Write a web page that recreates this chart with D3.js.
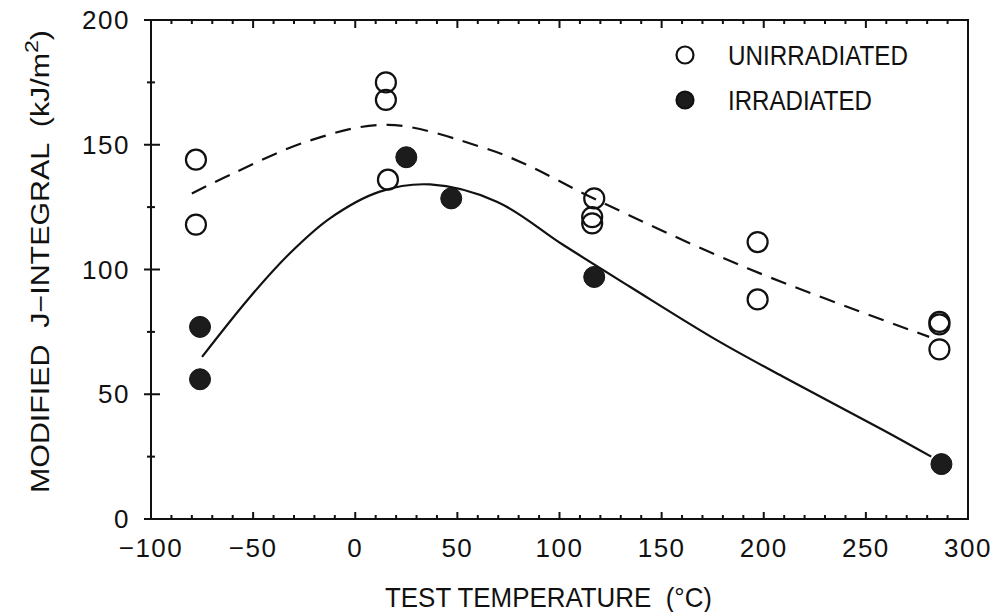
<!DOCTYPE html>
<html>
<head>
<meta charset="utf-8">
<script src="https://cdn.jsdelivr.net/npm/d3@7"></script>
<style>
  body { margin: 0; background: #fff; }
  svg text { font-family: "Liberation Sans", Arial, sans-serif; fill: #111; }
</style>
</head>
<body>
<div id="chart"></div>
<script>
// open circles: unirradiated, filled: irradiated
const unirrTemp = [-78, -78, 15, 15, 16, 117, 116, 116, 197, 197, 286, 286, 286];
const unirrJ    = [144, 118, 175, 168, 136, 128.5, 121, 118.5, 111, 88, 79, 78, 68];

const irrTemp = [-76, -76, 25, 47, 117, 287];
const irrJ    = [77, 56, 145, 128.5, 97, 22];

// fitted trend curves
const dashTemp = [-80, -61, -23, 16, 62, 82, 118, 192, 281];
const dashJ    = [130.5, 138, 151.5, 158, 149, 142.7, 128, 100.5, 73];
const solidTemp = [-75, -51.5, -32, -12.4, 12, 36.6, 69.3, 101.9, 134.5, 177, 209.5, 258.4, 282];
const solidJ    = [65, 89, 106.5, 120.5, 131.2, 134.1, 127.2, 109.8, 93.1, 71.7, 57, 35.7, 25];

const xTicks = [-100, -50, 0, 50, 100, 150, 200, 250, 300];
const yTicks = [0, 50, 100, 150, 200];
const legendNames = ["UNIRRADIATED", "IRRADIATED"];

const width = 1002, height = 612;
const mLeft = 151, mRight = 968, mTop = 20, mBottom = 519;

const svg = d3.select("#chart").append("svg")
  .attr("width", width)
  .attr("height", height);

const x = d3.scaleLinear().domain([-100, 300]).range([mLeft, mRight]);
const y = d3.scaleLinear().domain([0, 200]).range([mBottom, mTop]);

const ink = "#111";

// frame
svg.append("rect")
  .attr("x", mLeft).attr("y", mTop)
  .attr("width", mRight - mLeft).attr("height", mBottom - mTop)
  .attr("fill", "none").attr("stroke", ink).attr("stroke-width", 2);

// x minor / major ticks on bottom and top, pointing inward
const xMinor = d3.range(-100, 301, 10);
svg.append("g").selectAll("line")
  .data(xMinor).enter().append("line")
  .attr("x1", d => x(d)).attr("x2", d => x(d))
  .attr("y1", mBottom).attr("y2", d => mBottom - (d % 50 === 0 ? 7 : 4))
  .attr("stroke", ink).attr("stroke-width", 2);
svg.append("g").selectAll("line")
  .data(xMinor).enter().append("line")
  .attr("x1", d => x(d)).attr("x2", d => x(d))
  .attr("y1", mTop).attr("y2", d => mTop + (d % 50 === 0 ? 8 : 4))
  .attr("stroke", ink).attr("stroke-width", 2);

// y ticks crossing left axis
const yMinor = d3.range(0, 201, 25);
svg.append("g").selectAll("line")
  .data(yMinor).enter().append("line")
  .attr("x1", d => mLeft - (d % 50 === 0 ? 7 : 4))
  .attr("x2", d => mLeft + (d % 50 === 0 ? 9 : 4))
  .attr("y1", d => y(d)).attr("y2", d => y(d))
  .attr("stroke", ink).attr("stroke-width", 2);

// tick labels
svg.append("g").selectAll("text")
  .data(xTicks).enter().append("text")
  .attr("x", d => x(d)).attr("y", 557)
  .attr("text-anchor", "middle")
  .attr("font-size", 26)
  .attr("letter-spacing", 1.5)
  .text(d => d < 0 ? "\u2212" + Math.abs(d) : d);

svg.append("g").selectAll("text")
  .data(yTicks).enter().append("text")
  .attr("x", mLeft - 21).attr("y", d => y(d) + 9)
  .attr("text-anchor", "end")
  .attr("font-size", 26)
  .attr("letter-spacing", 1.5)
  .text(d => d);

// axis titles
svg.append("text")
  .attr("x", 385).attr("y", 607)
  .attr("font-size", 28)
  .attr("textLength", 327)
  .attr("lengthAdjust", "spacingAndGlyphs")
  .attr("xml:space", "preserve")
  .text("TEST TEMPERATURE  (\u00B0C)");

const yt = svg.append("text")
  .attr("transform", "translate(49,493) rotate(-90)")
  .attr("font-size", 25)
  .attr("textLength", 463)
  .attr("lengthAdjust", "spacingAndGlyphs")
  .attr("xml:space", "preserve");
yt.append("tspan").text("MODIFIED  J\u2212INTEGRAL  (kJ/m");
yt.append("tspan").attr("dy", -11).attr("font-size", 19).text("2");
yt.append("tspan").attr("dy", 11).text(")");

// curves
const dashPts = dashTemp.map((t, i) => [t, dashJ[i]]);
const solidPts = solidTemp.map((t, i) => [t, solidJ[i]]);
const line = d3.line()
  .x(d => x(d[0])).y(d => y(d[1]))
  .curve(d3.curveCatmullRom.alpha(0.5));

svg.append("path")
  .attr("d", line(dashPts))
  .attr("fill", "none").attr("stroke", ink).attr("stroke-width", 2.2)
  .attr("stroke-dasharray", "16,10");

svg.append("path")
  .attr("d", line(solidPts))
  .attr("fill", "none").attr("stroke", ink).attr("stroke-width", 2.2);

// markers
svg.append("g").selectAll("circle")
  .data(unirrTemp.map((t, i) => [t, unirrJ[i]])).enter().append("circle")
  .attr("cx", d => x(d[0])).attr("cy", d => y(d[1]))
  .attr("r", 10)
  .attr("fill", "none").attr("stroke", ink).attr("stroke-width", 2.2);

svg.append("g").selectAll("circle")
  .data(irrTemp.map((t, i) => [t, irrJ[i]])).enter().append("circle")
  .attr("cx", d => x(d[0])).attr("cy", d => y(d[1]))
  .attr("r", 10.5)
  .attr("fill", "#1c1c1c").attr("stroke", ink).attr("stroke-width", 1);

// legend
const legend = svg.append("g");
const legendLen = [180, 144];
legendNames.forEach((name, i) => {
  const ly = 55 + i * 45;
  legend.append("circle")
    .attr("cx", 685).attr("cy", ly).attr("r", 8.5)
    .attr("fill", i === 0 ? "none" : "#1c1c1c")
    .attr("stroke", ink).attr("stroke-width", 2.2);
  legend.append("text")
    .attr("x", 728).attr("y", ly + 10)
    .attr("font-size", 27)
    .attr("textLength", legendLen[i])
    .attr("lengthAdjust", "spacingAndGlyphs")
    .text(name);
});
</script>
</body>
</html>
